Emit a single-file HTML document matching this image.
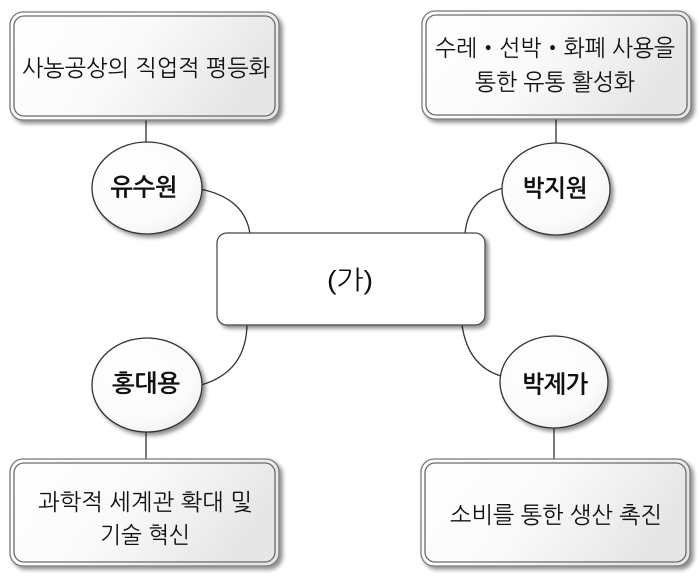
<!DOCTYPE html>
<html>
<head>
<meta charset="utf-8">
<style>
  html, body { margin: 0; padding: 0; background: #ffffff; }
  svg { display: block; }
  text { font-family: "Liberation Sans", "NanumGothic", "Noto Sans CJK KR", sans-serif; fill: #111; }
</style>
</head>
<body>
<svg width="699" height="581" viewBox="0 0 699 581" xmlns="http://www.w3.org/2000/svg">
  <defs>
    <linearGradient id="boxfill" x1="0" y1="0" x2="1" y2="0.3">
      <stop offset="0" stop-color="#ffffff"/>
      <stop offset="0.5" stop-color="#fafafa"/>
      <stop offset="1" stop-color="#e6e6e6"/>
    </linearGradient>
    <radialGradient id="circfill" cx="0.4" cy="0.35" r="0.75">
      <stop offset="0" stop-color="#ffffff"/>
      <stop offset="0.7" stop-color="#fbfbfb"/>
      <stop offset="1" stop-color="#eeeeee"/>
    </radialGradient>
    <filter id="shadow" x="-10%" y="-10%" width="125%" height="130%">
      <feGaussianBlur in="SourceAlpha" stdDeviation="2"/>
      <feOffset dx="3" dy="3" result="ob"/>
      <feComponentTransfer><feFuncA type="linear" slope="0.45"/></feComponentTransfer>
      <feMerge><feMergeNode/><feMergeNode in="SourceGraphic"/></feMerge>
    </filter>
  </defs>

  <!-- connectors -->
  <g stroke="#333" stroke-width="1.3" fill="none">
    <line x1="146" y1="120" x2="146" y2="143"/>
    <line x1="556" y1="119" x2="556" y2="143"/>
    <line x1="146" y1="432" x2="146" y2="459"/>
    <line x1="554" y1="428" x2="554" y2="460"/>
    <path d="M200,189 Q 245,198 250,234"/>
    <path d="M503,188 Q 468,198 465,234"/>
    <path d="M247,325 Q 246,372 201,385"/>
    <path d="M462,325 Q 468,366 501,376"/>
  </g>

  <!-- outer boxes -->
  <g filter="url(#shadow)">
    <rect x="10" y="12" width="269" height="108" rx="13" fill="url(#boxfill)" stroke="#7a7a7a" stroke-width="1.3"/>
    <rect x="422" y="11" width="269" height="108" rx="13" fill="url(#boxfill)" stroke="#7a7a7a" stroke-width="1.3"/>
    <rect x="10" y="459" width="269" height="107" rx="13" fill="url(#boxfill)" stroke="#7a7a7a" stroke-width="1.3"/>
    <rect x="421" y="459" width="269" height="107" rx="13" fill="url(#boxfill)" stroke="#7a7a7a" stroke-width="1.3"/>
  </g>
  <g fill="none" stroke="#6a6a6a" stroke-width="1.3">
    <rect x="14" y="16" width="261" height="100" rx="10"/>
    <rect x="426" y="15" width="261" height="100" rx="10"/>
    <rect x="14" y="463" width="261" height="99" rx="10"/>
    <rect x="425" y="463" width="261" height="99" rx="10"/>
  </g>

  <!-- center box -->
  <rect x="217" y="233" width="268" height="92" rx="10" fill="#ffffff" stroke="#444" stroke-width="1.2" filter="url(#shadow)"/>

  <!-- circles -->
  <g filter="url(#shadow)" stroke="#333" stroke-width="1.3" fill="url(#circfill)">
    <ellipse cx="147" cy="188" rx="55" ry="46"/>
    <ellipse cx="556" cy="189" rx="54" ry="46"/>
    <ellipse cx="147" cy="385" rx="55" ry="47"/>
    <ellipse cx="554" cy="382" rx="54" ry="46"/>
  </g>

  <!-- box texts -->
  <g font-size="23" text-anchor="middle" dominant-baseline="central">
    <text x="146" y="68" textLength="248" lengthAdjust="spacingAndGlyphs">사농공상의 직업적 평등화</text>
    <text x="555" y="48" textLength="240" lengthAdjust="spacingAndGlyphs">수레・선박・화폐 사용을</text>
    <text x="555" y="82" textLength="160" lengthAdjust="spacingAndGlyphs">통한 유통 활성화</text>
    <text x="145" y="502" textLength="214" lengthAdjust="spacingAndGlyphs">과학적 세계관 확대 및</text>
    <text x="145" y="535" textLength="90" lengthAdjust="spacingAndGlyphs">기술 혁신</text>
    <text x="556" y="515" textLength="212" lengthAdjust="spacingAndGlyphs">소비를 통한 생산 촉진</text>
  </g>

  <!-- center text -->
  <text x="350" y="280" font-size="26" text-anchor="middle" dominant-baseline="central" textLength="46" lengthAdjust="spacingAndGlyphs">(가)</text>

  <!-- circle texts -->
  <g font-size="24" font-weight="bold" text-anchor="middle" dominant-baseline="central">
    <text x="144" y="188" textLength="67" lengthAdjust="spacingAndGlyphs">유수원</text>
    <text x="555" y="189" textLength="65" lengthAdjust="spacingAndGlyphs">박지원</text>
    <text x="146" y="384" textLength="68" lengthAdjust="spacingAndGlyphs">홍대용</text>
    <text x="555" y="385" textLength="66" lengthAdjust="spacingAndGlyphs">박제가</text>
  </g>
</svg>
</body>
</html>
